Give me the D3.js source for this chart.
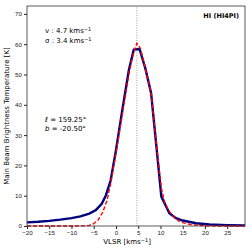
<!DOCTYPE html>
<html>
<head>
<meta charset="utf-8">
<script src="https://cdn.jsdelivr.net/npm/d3@7"></script>
<style>
  body { margin: 0; background: #fff; }
  svg { font-family: "DejaVu Sans", sans-serif; }
  .tick text { font-size: 6.2px; fill: #222; }
  .tick line { stroke: #222; }
</style>
</head>
<body>
<div id="chart"></div>
<script>
// observed spectrum (blue)
const obsV = [-20, -17.5, -15, -12.5, -10, -8, -6, -4.5, -3.2, -2.3, -1.2, 0, 1.5, 2.9, 4.0, 5.3, 6.6, 7.9, 9.1, 10.2, 12.0, 13.5, 15, 18, 21, 25, 29];
const obsT = [1.2, 1.4, 1.7, 2.1, 2.6, 3.2, 4.1, 5.3, 7.3, 10, 15, 25, 39, 51.5, 58.2, 58.4, 52, 43.8, 26, 9.7, 4.2, 2.6, 1.8, 0.9, 0.5, 0.3, 0.2];
// fitted profile (red dashed)
const fitV = [-20, -10, -7, -6, -5, -4, -3, -2, -1.2, 0, 1, 2, 3, 4, 4.7, 5.5, 6.5, 7.9, 9, 10.2, 11, 12, 13, 14, 15, 17, 20, 23, 29];
const fitT = [0, 0, 0.05, 0.2, 0.8, 2, 4.5, 8.5, 14, 24, 33, 42, 51, 57.5, 60.3, 58.5, 52.5, 43.8, 28, 12.5, 7.5, 4.8, 3, 1.8, 1.1, 0.4, 0.1, 0, 0];
const vCenter = 4.7;
const xTicks = [-20, -15, -10, -5, 0, 5, 10, 15, 20, 25];
const yTicks = [0, 10, 20, 30, 40, 50, 60, 70];

const width = 252, height = 252;
const margin = { top: 6, right: 7, bottom: 26, left: 27 };

const svg = d3.select('#chart').append('svg')
  .attr('width', width).attr('height', height);

const x = d3.scaleLinear().domain([-20, 29]).range([margin.left, width - margin.right]);
const y = d3.scaleLinear().domain([0, 72.6]).range([height - margin.bottom, margin.top]);

const fmt = d => d < 0 ? '\u2212' + Math.abs(d) : d;

svg.append('g')
  .attr('transform', `translate(0,${height - margin.bottom})`)
  .call(d3.axisBottom(x).tickValues(xTicks).tickFormat(fmt).tickSize(3).tickPadding(2))
  .call(g => g.select('.domain').remove());

svg.append('g')
  .attr('transform', `translate(${margin.left},0)`)
  .call(d3.axisLeft(y).tickValues(yTicks).tickSize(3).tickPadding(2))
  .call(g => g.select('.domain').remove());

// centre line
svg.append('line')
  .attr('x1', x(vCenter)).attr('x2', x(vCenter))
  .attr('y1', y.range()[0]).attr('y2', y.range()[1])
  .attr('stroke', '#888').attr('stroke-width', 0.8).attr('stroke-dasharray', '1,1.5');

const line = d3.line().x(d => x(d[0])).y(d => y(d[1]));

svg.append('path')
  .datum(obsV.map((v, i) => [v, obsT[i]]))
  .attr('fill', 'none').attr('stroke', '#000080').attr('stroke-width', 2.4)
  .attr('d', line);

svg.append('path')
  .datum(fitV.map((v, i) => [v, fitT[i]]))
  .attr('fill', 'none').attr('stroke', '#ff0000').attr('stroke-width', 1.4)
  .attr('stroke-dasharray', '4,2')
  .attr('d', line);

// frame
svg.append('rect')
  .attr('x', margin.left).attr('y', margin.top)
  .attr('width', width - margin.left - margin.right)
  .attr('height', height - margin.top - margin.bottom)
  .attr('fill', 'none').attr('stroke', '#333').attr('stroke-width', 0.8);

// annotations
const ann = svg.append('g').style('font-size', '7px').attr('fill', '#000');
const t1 = ann.append('text').attr('x', 45).attr('y', 33);
t1.append('tspan').text('v : 4.7 kms');
t1.append('tspan').attr('dy', -2.5).style('font-size', '5px').text('\u22121');
const t2 = ann.append('text').attr('x', 45).attr('y', 43);
t2.append('tspan').text('\u03c3 : 3.4 kms');
t2.append('tspan').attr('dy', -2.5).style('font-size', '5px').text('\u22121');

const t3 = ann.append('text').attr('x', 45).attr('y', 122);
t3.append('tspan').style('font-style', 'italic').text('\u2113');
t3.append('tspan').text(' = 159.25\u00b0');
const t4 = ann.append('text').attr('x', 45).attr('y', 131);
t4.append('tspan').style('font-style', 'italic').text('b');
t4.append('tspan').text(' = -20.50\u00b0');

svg.append('text')
  .attr('x', 239).attr('y', 18).attr('text-anchor', 'end')
  .style('font-size', '6.5px').style('font-weight', 'bold')
  .text('HI (HI4PI)');

// axis labels
const xl = svg.append('text')
  .attr('x', x(2.5)).attr('y', 244).attr('text-anchor', 'middle')
  .style('font-size', '7px');
xl.append('tspan').text('VLSR [kms');
xl.append('tspan').attr('dy', -2.5).style('font-size', '5px').text('\u22121');
xl.append('tspan').attr('dy', 2.5).text(']');

svg.append('text')
  .attr('transform', `translate(9,${(margin.top + height - margin.bottom) / 2}) rotate(-90)`)
  .attr('text-anchor', 'middle')
  .style('font-size', '7px')
  .text('Main Beam Brightness Temperature [K]');
</script>
</body>
</html>
